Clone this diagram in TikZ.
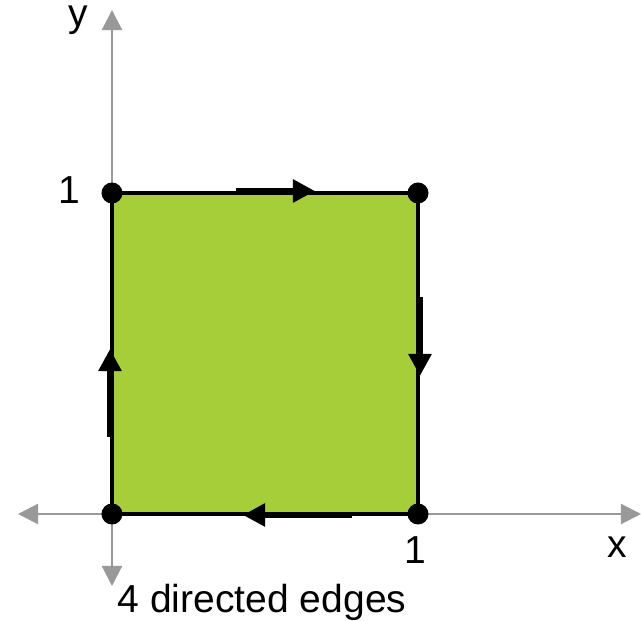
\documentclass[tikz,border=0pt]{standalone}
\usepackage{fontspec}
\setmainfont{Liberation Sans}
\usetikzlibrary{arrows.meta, positioning}
\definecolor{sqGreen}{HTML}{A6CE39}
\definecolor{axisGray}{HTML}{999999}
\tikzset{
  axisline/.style={{Triangle[length=2mm,width=2mm]}-{Triangle[length=2mm,width=2mm]}, color=axisGray, line width=0.6pt},
  edgeline/.style={black, line width=1.2pt},
  edgearrow/.style={-{Triangle[length=2.2mm,width=2.2mm]}, black, line width=1.7pt},
  corner/.style={circle, fill=black, inner sep=0pt, minimum size=2.1mm},
  lbl/.style={font=\fontsize{11.1}{13}\selectfont, inner sep=0pt},
}
\begin{document}
\begin{tikzpicture}[x=0.01cm, y=-0.01cm]
    \useasboundingbox (0,0) rectangle (641,621);
    % axes
    \coordinate (xl) at (18,514);  \coordinate (xr) at (641,514);
    \coordinate (yt) at (112,10);  \coordinate (yb) at (112,586);
    \draw[axisline] (xl) -- (xr);
    \draw[axisline] (yb) -- (yt);
    % unit square
    \fill[sqGreen] (112,514) rectangle (418,193);
    \node[corner] (p00) at (112,514) {};
    \node[corner] (p10) at (418,514) {};
    \node[corner] (p11) at (418,193) {};
    \node[corner] (p01) at (112,193) {};
    \draw[edgeline] (p00.center) -- (p01.center) -- (p11.center) -- (p10.center) -- cycle;
    % direction marks
    \coordinate (ta) at (236,191); \coordinate (tb) at (315,191);
    \coordinate (ra) at (420,297); \coordinate (rb) at (420,376);
    \coordinate (ba) at (352,515); \coordinate (bb) at (243,515);
    \coordinate (la) at (110,437); \coordinate (lb) at (110,349);
    \draw[edgearrow] (ta) -- (tb);
    \draw[edgearrow] (ra) -- (rb);
    \draw[edgearrow] (ba) -- (bb);
    \draw[edgearrow] (la) -- (lb);
    % labels
    \node[lbl] (ylab) at (78,20) {y};
    \node[lbl] (xlab) at (617,547) {x};
    \node[lbl] (one y) at (69,190) {1};
    \node[lbl] (one x) at (415,550) {1};
    \node[lbl] (cap) at (262,602) {4 directed edges};
\end{tikzpicture}
\end{document}
